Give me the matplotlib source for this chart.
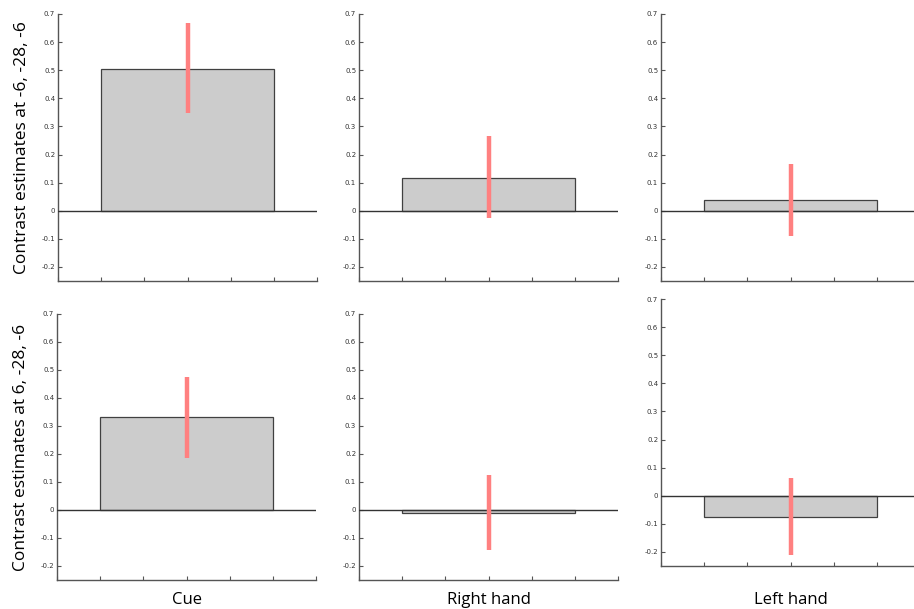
import matplotlib.pyplot as plt
import numpy as np

# Contrast estimates per condition, two voxel locations (rows)
conditions = ["Cue", "Right hand", "Left hand"]
row_labels = ["Contrast estimates at -6, -28, -6",
              "Contrast estimates at 6, -28, -6"]

means = [
    [0.505, 0.118, 0.039],
    [0.331, -0.010, -0.074],
]
ci_low = [
    [0.349, -0.026, -0.089],
    [0.185, -0.143, -0.210],
]
ci_high = [
    [0.667, 0.267, 0.167],
    [0.476, 0.126, 0.062],
]

yticks = np.round(np.arange(-0.2, 0.71, 0.1), 1)
xticks = np.round(np.arange(0.4, 1.61, 0.2), 1)

W, H = 914, 609
fig = plt.figure(figsize=(W / 100, H / 100), dpi=100)

# axes boxes in pixels: (left, top, right, bottom)
boxes = [
    [(58, 14, 317, 281), (359, 14, 618, 281), (661, 14, 920, 281)],
    [(57, 314, 316, 580), (359, 314, 618, 580), (661, 299, 920, 566)],
]

label_font = ["Open Sans", "DejaVu Sans"]
tick_font = ["Liberation Sans Narrow", "DejaVu Sans Condensed", "DejaVu Sans"]

for r in range(2):
    for c in range(3):
        l, t, rt, b = boxes[r][c]
        ax = fig.add_axes([l / W, 1 - b / H, (rt - l) / W, (b - t) / H])
        ax.bar(1, means[r][c], width=0.8, color="#cccccc",
               edgecolor="#404040", linewidth=0.9, zorder=2)
        ax.axhline(0, color="#333333", linewidth=1.0, zorder=3)
        ax.plot([1, 1], [ci_low[r][c], ci_high[r][c]], color="#ff8080",
                linewidth=3.2, solid_capstyle="butt", zorder=4)

        ax.set_xlim(0.4, 1.6)
        ax.set_ylim(-0.25, 0.7)
        ax.set_xticks(xticks)
        ax.set_xticklabels([])
        ax.set_yticks(yticks)
        ax.set_yticklabels([f"{v:g}" for v in yticks], family=tick_font,
                           fontsize=5, color="#333333")
        ax.tick_params(direction="in", length=3, width=0.8, colors="#555555",
                       labelcolor="#333333", pad=2)
        for side in ("top", "right"):
            ax.spines[side].set_visible(False)
        for side in ("left", "bottom"):
            ax.spines[side].set_color("#555555")
            ax.spines[side].set_linewidth(1.0)

        if c == 0:
            ax.set_ylabel(row_labels[r], family=label_font, fontsize=12.5,
                          labelpad=8)
        if r == 1:
            # condition names sit under the bottom row, centred on each bar
            fig.text((l + 130) / W, 1 - 600 / H, conditions[c],
                     family=label_font, fontsize=12, ha="center", va="center")

fig.savefig("out.png", dpi=100)
